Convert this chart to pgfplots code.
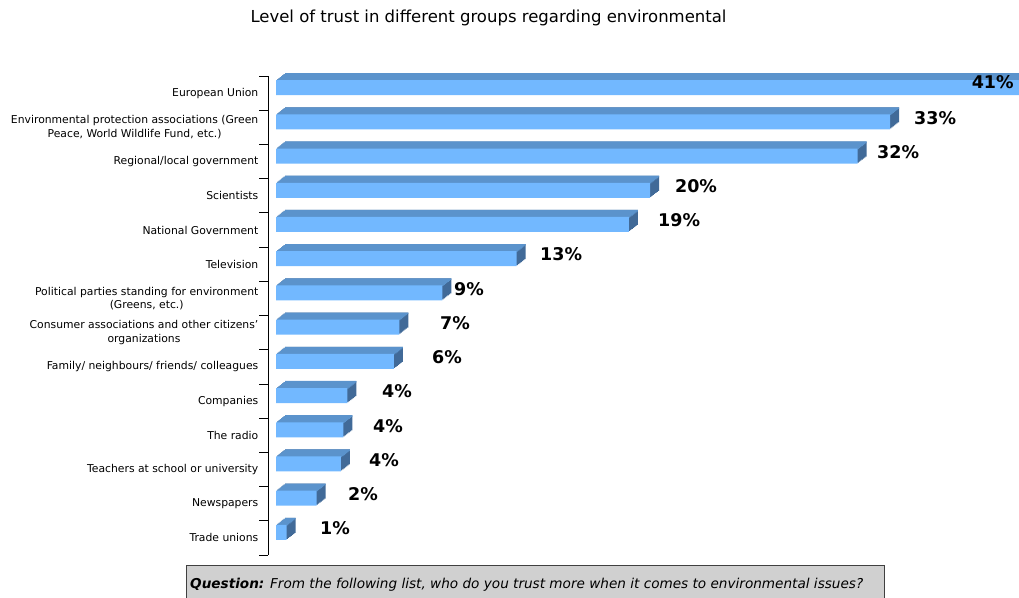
\documentclass[border=0pt]{standalone}
\usepackage{fontspec}
\setmainfont{DejaVu Sans}
\usepackage{pgfplots}
\usepackage{pgfplotstable}
\pgfplotsset{compat=1.18}

\definecolor{barfront}{HTML}{72B8FF}
\definecolor{bartop}{HTML}{5B93CC}
\definecolor{barside}{HTML}{416A98}
\definecolor{qbox}{HTML}{D0D0D0}

% row = category (0 at top), len = bar length as drawn
\pgfplotstableread{
row len
0 41.5
1 33.37
2 31.61
3 20.33
4 19.18
5 13.08
6 9.04
7 6.70
8 6.41
9 3.88
10 3.66
11 3.53
12 2.21
13 0.58
}\trust

% printed values and where they sit (row 0 is placed inside its bar, below)
\pgfplotstableread{
row lx lab
1 34.67 33
2 32.66 32
3 21.68 20
4 20.76 19
5 14.35 13
6 9.67 9
7 8.91 7
8 8.48 6
9 5.76 4
10 5.27 4
11 5.05 4
12 3.91 2
13 2.39 1
}\labels

\begin{document}
\begin{tikzpicture}
\useasboundingbox (0,0) rectangle (1019pt,-597pt);

\node[font=\fontsize{16.5}{19}\selectfont] at (488.5pt,-18pt)
  {Level of trust in different groups regarding environmental};

\begin{axis}[
    at={(268pt,-555pt)}, anchor=south west,
    scale only axis, width=751pt, height=479pt,
    xmin=-0.4348, xmax=40.38,
    ymin=-0.5, ymax=13.5, y dir=reverse,
    clip=false,
    axis x line=none,
    axis y line*=left,
    axis line style={black, line width=0.8pt},
    xtick=\empty,
    ytick={0,...,13},
    minor ytick={-0.5,0.5,...,13.5},
    major tick length=0pt,
    minor tick length=9pt,
    tick align=outside,
    minor tick style={black, line width=0.8pt},
    yticklabel style={align=center, inner sep=0pt, xshift=-9.5pt,
        font=\fontsize{10.8}{13.5}\selectfont},
    yticklabels={
        European Union,
        {Environmental protection associations (Green\\Peace, World Wildlife Fund, etc.)},
        Regional/local government,
        Scientists,
        National Government,
        Television,
        {Political parties standing for environment\\(Greens, etc.)},
        {Consumer associations and other citizens'\\organizations},
        Family/ neighbours/ friends/ colleagues,
        Companies,
        The radio,
        Teachers at school or university,
        Newspapers,
        Trade unions},
]
% side face: the front bar swept back and up
\pgfplotsinvokeforeach{1,...,7}{
  \addplot[xbar, bar shift=0pt, bar width=15pt, fill=barside, draw=none,
      xshift={#1*1.2857pt}, yshift={#1*1pt}]
      table[x=len, y expr=\thisrow{row}-0.161] {\trust};
}
% top face: the top edge swept back and up
\pgfplotsinvokeforeach{1,...,7}{
  \addplot[xbar, bar shift=0pt, bar width=1.6pt, fill=bartop, draw=none,
      xshift={#1*1.2857pt}, yshift={#1*1pt}]
      table[x=len, y expr=\thisrow{row}-0.358] {\trust};
}
% front face
\addplot[xbar, bar shift=0pt, bar width=15pt, fill=barfront, draw=none]
    table[x=len, y expr=\thisrow{row}-0.161] {\trust};

% value labels
\addplot[draw=none, mark=none, point meta=explicit symbolic,
    nodes near coords={\pgfplotspointmeta\%},
    nodes near coords align={anchor=west},
    nodes near coords style={anchor=west, inner sep=0pt,
        font=\fontsize{17.5}{19}\selectfont\bfseries}]
    table[x=lx, y expr=\thisrow{row}-0.28, meta=lab] {\labels};
\addplot[draw=none, mark=none, point meta=explicit symbolic,
    nodes near coords={\pgfplotspointmeta\%},
    nodes near coords align={anchor=east},
    nodes near coords style={anchor=east, inner sep=0pt,
        font=\fontsize{17.5}{19}\selectfont\bfseries}]
    coordinates {(40.1,-0.32) [41]};
\end{axis}

\draw[fill=qbox, draw=black!75, line width=0.8pt] (186pt,-565pt) rectangle (884pt,-612pt);
\node[anchor=base west, inner sep=0pt, font=\fontsize{13.6}{16}\selectfont]
  at (190pt,-588pt)
  {\textbf{\textit{Question:}} \textit{From the following list, who do you trust more when it comes to environmental issues?}};
\end{tikzpicture}
\end{document}
